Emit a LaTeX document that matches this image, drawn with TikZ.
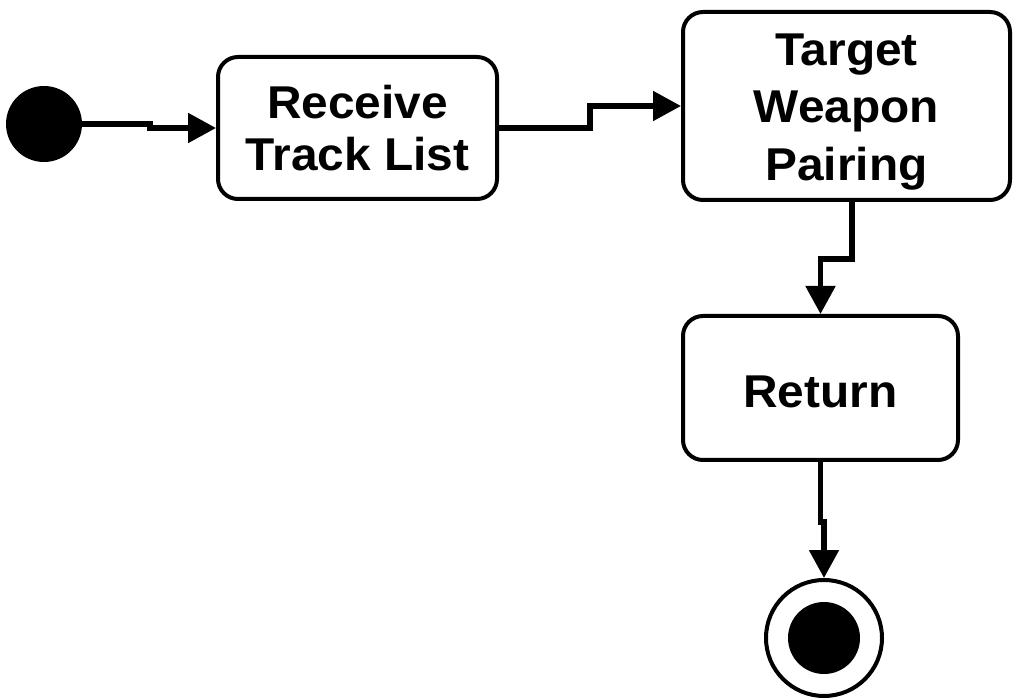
\documentclass[tikz,border=0pt]{standalone}
\usepackage{fontspec}
\setmainfont{Liberation Sans}[FakeStretch=1.04]
\usetikzlibrary{arrows.meta}

\begin{document}
\begin{tikzpicture}[x=0.5pt, y=-0.5pt,
  actnode/.style={rectangle, rounded corners=10pt, draw=black, line width=2pt, align=center, inner sep=0pt, font=\bfseries\fontsize{23}{26}\selectfont},
  startnode/.style={circle, fill=black, minimum size=38pt, inner sep=0pt},
  endnode/.style={circle, draw=black, line width=2pt, fill=white, minimum size=58pt, inner sep=0pt},
  dotnode/.style={circle, fill=black, minimum size=36pt, inner sep=0pt},
  flow/.style={line width=2.6pt, -{Triangle[length=14pt, width=14.5pt]}},
  ]
\useasboundingbox (0,0) rectangle (1013,700);

\node[startnode] (start) at (44,124) {};
\node[actnode, minimum width=139.5pt, minimum height=71pt] (receive) at (357.5,128) {Receive\\Track List};
\node[actnode, minimum width=163.5pt, minimum height=94pt, font=\bfseries\fontsize{23}{28.75}\selectfont] (pairing) at (846.5,106) {\rule{0pt}{21.5pt}Target\\Weapon\\Pairing};
\node[actnode, minimum width=137.5pt, minimum height=72pt, text height=20pt] (return) at (820.5,388) {Return};
\node[endnode] (end) at (824,638) {};
\node[dotnode] (enddot) at (end) {};

\draw[flow] (start) -- ++(106,0) |- (receive.west);
\draw[flow] (receive.east) -- ++(91,0) |- (pairing.west);
\draw[flow] ([xshift=2.75pt]pairing.south) -- ++(0,57) -| (return.north);
\draw[flow] (return.south) -- ++(0,60) -| (end.north);

\end{tikzpicture}
\end{document}
